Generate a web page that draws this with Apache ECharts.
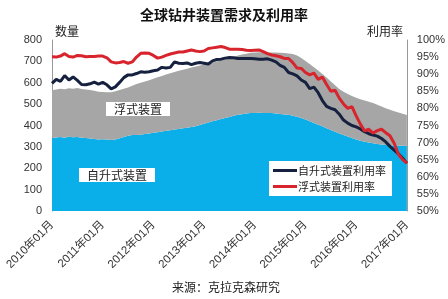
<!DOCTYPE html>
<html>
<head>
<meta charset="utf-8">
<script src="https://cdn.jsdelivr.net/npm/echarts@6/dist/echarts.min.js"></script>
<style>
  html, body { margin: 0; padding: 0; background: #fff; }
  #chart { width: 448px; height: 299px; }
</style>
</head>
<body>
<div id="chart"></div>
<script>
// 月份 2010年01月 - 2017年01月
var months = [];
for (var y = 2010; y <= 2017; y++) {
  for (var m = 1; m <= 12; m++) {
    if (y === 2017 && m > 1) break;
    months.push(y + '年' + (m < 10 ? '0' + m : m) + '月');
  }
}

// 自升式装置数量
var jackupRigs = [341, 344, 346, 343, 347, 345, 346, 343, 341, 339, 337, 335,
  336, 334, 332, 335, 340, 346, 352, 355, 355, 357, 360, 363,
  366, 369, 372, 375, 378, 381, 384, 387, 390, 393, 397, 402,
  408, 414, 420, 425, 430, 435, 440, 446, 450, 453, 456, 458,
  459, 460, 459, 458, 458, 456, 454, 452, 450, 446, 441, 435,
  428, 420, 412, 404, 396, 387, 379, 371, 363, 355, 348, 341,
  335, 329, 324, 320, 317, 314, 311, 309, 308, 307, 306, 305,
  305];

// 浮式装置数量 (叠加在自升式之上)
var floaterRigs = [224, 224, 226, 227, 227, 227, 229, 228, 227, 227, 225, 223,
  221, 222, 224, 225, 226, 226, 226, 231, 239, 243, 246, 249,
  253, 257, 260, 264, 267, 269, 272, 274, 276, 278, 279, 279,
  278, 276, 275, 275, 275, 275, 275, 274, 277, 279, 280, 282,
  283, 283, 284, 284, 283, 285, 286, 287, 287, 288, 287, 281,
  274, 268, 261, 253, 245, 237, 227, 217, 208, 203, 199, 197,
  195, 194, 193, 191, 188, 183, 178, 172, 166, 160, 155, 150,
  144];

// 自升式装置利用率 (%)
var jackupUtil = [87.3, 88.5, 87.9, 89.6, 88.3, 89.2, 88.2, 87.0, 86.9, 87.2, 87.7, 87.1,
  87.6, 86.9, 85.7, 86.3, 87.6, 89.0, 89.8, 89.8, 90.2, 90.7, 90.6, 90.7,
  91.0, 91.2, 92.0, 91.8, 92.0, 93.6, 93.2, 93.1, 93.3, 92.8, 93.2, 93.4,
  93.2, 93.0, 93.9, 94.3, 94.4, 94.7, 94.9, 94.8, 94.6, 94.6, 94.6, 94.6,
  94.5, 94.4, 94.4, 94.5, 94.1, 93.6, 92.6, 92.0, 90.5, 90.1, 89.5, 88.3,
  87.6, 85.8, 86.2, 84.6, 82.3, 80.6, 80.0, 79.6, 78.3, 76.6, 75.7, 75.0,
  74.6, 74.0, 73.2, 72.6, 72.2, 71.9, 71.2, 70.2, 68.9, 67.8, 66.7, 65.4,
  64.0];

// 浮式装置利用率 (%)
var floaterUtil = [95.1, 95.0, 95.3, 96.0, 95.2, 95.0, 95.5, 95.4, 95.1, 95.2, 95.2, 95.3,
  95.3, 94.8, 93.6, 93.3, 93.4, 93.7, 93.2, 93.6, 95.0, 96.1, 96.2, 96.1,
  95.5, 94.7, 95.0, 95.5, 95.9, 96.2, 96.5, 96.5, 96.8, 97.1, 96.8, 96.6,
  96.8, 97.5, 97.7, 97.9, 98.1, 97.8, 97.3, 97.3, 97.3, 97.2, 97.0, 96.9,
  97.0, 97.1, 96.6, 96.0, 95.6, 95.4, 95.1, 94.6, 94.6, 93.4, 91.8, 91.7,
  90.5, 89.8, 90.3, 88.5, 89.2, 87.0, 85.0, 85.3, 83.0, 81.3, 80.0, 80.5,
  77.8, 75.4, 73.4, 73.9, 72.8, 73.5, 73.9, 72.9, 72.0, 69.8, 66.6, 65.0,
  64.0];

var FONT = '"Liberation Sans", "Noto Sans CJK SC", sans-serif';
var CJK = '"Noto Sans CJK SC", sans-serif';

var chart = echarts.init(document.getElementById('chart'));
chart.setOption({
  backgroundColor: '#fff',
  animation: false,
  textStyle: { fontFamily: FONT },
  title: {
    text: '全球钻井装置需求及利用率',
    left: 'center',
    top: 3,
    textStyle: { fontSize: 14, fontWeight: 'bold', color: '#111', fontFamily: CJK }
  },
  grid: { left: 52, right: 41, top: 40, bottom: 88 },
  legend: {
    data: ['自升式装置利用率', '浮式装置利用率'],
    orient: 'vertical',
    left: 269,
    top: 161,
    backgroundColor: '#fff',
    padding: [4, 6, 4, 4],
    itemGap: 5,
    itemWidth: 24,
    itemHeight: 3,
    icon: 'rect',
    textStyle: { fontSize: 11, color: '#222', fontFamily: CJK, padding: [0, 0, 0, -4] }
  },
  xAxis: {
    type: 'category',
    data: months,
    boundaryGap: false,
    axisLine: { show: false },
    axisTick: { show: false },
    axisLabel: {
      interval: 11,
      rotate: 45,
      fontSize: 11.5,
      color: '#333',
      margin: 12,
      fontFamily: FONT
    },
    splitLine: { show: false }
  },
  yAxis: [{
    type: 'value',
    min: 0,
    max: 800,
    interval: 100,
    axisLine: { show: true, lineStyle: { color: '#999' } },
    axisTick: { show: false },
    axisLabel: { fontSize: 11, color: '#333', margin: 10 },
    splitLine: { show: false }
  }, {
    type: 'value',
    min: 50,
    max: 100,
    interval: 5,
    position: 'right',
    axisLine: { show: true, lineStyle: { color: '#999' } },
    axisTick: { show: false },
    axisLabel: { fontSize: 11, color: '#333', margin: 10, formatter: '{value}%' },
    splitLine: { show: false }
  }],
  graphic: [
    { type: 'text', left: 55, top: 25, style: { text: '数量', fill: '#222', font: '12px "Noto Sans CJK SC"' } },
    { type: 'text', left: 367, top: 25, style: { text: '利用率', fill: '#222', font: '12px "Noto Sans CJK SC"' } },
    {
      type: 'text', left: 106, top: 102, z: 10,
      style: { text: '浮式装置', font: '12px "Noto Sans CJK SC"', fill: '#222', backgroundColor: '#fff', padding: [1, 8, 1, 8] }
    },
    {
      type: 'text', left: 79, top: 168, z: 10,
      style: { text: '自升式装置', font: '12px "Noto Sans CJK SC"', fill: '#222', backgroundColor: '#fff', padding: [1, 8, 1, 8] }
    },
    { type: 'text', left: 172, top: 281, style: { text: '来源：克拉克森研究', font: '12px "Noto Sans CJK SC"', fill: '#222' } }
  ],
  series: [{
    name: '自升式装置',
    type: 'line',
    stack: 'rigs',
    data: jackupRigs,
    symbol: 'none',
    lineStyle: { width: 0 },
    areaStyle: { color: '#0AAEE8', opacity: 1 },
    itemStyle: { color: '#0AAEE8' },
    z: 1
  }, {
    name: '浮式装置',
    type: 'line',
    stack: 'rigs',
    data: floaterRigs,
    symbol: 'none',
    lineStyle: { width: 0 },
    areaStyle: { color: '#A6A6A6', opacity: 1 },
    itemStyle: { color: '#A6A6A6' },
    z: 1
  }, {
    name: '自升式装置利用率',
    type: 'line',
    yAxisIndex: 1,
    data: jackupUtil,
    symbol: 'none',
    lineStyle: { width: 3, color: '#15213F' },
    itemStyle: { color: '#15213F' },
    z: 3
  }, {
    name: '浮式装置利用率',
    type: 'line',
    yAxisIndex: 1,
    data: floaterUtil,
    symbol: 'none',
    lineStyle: { width: 3, color: '#D8242C' },
    itemStyle: { color: '#D8242C' },
    z: 4
  }]
});
</script>
</body>
</html>
